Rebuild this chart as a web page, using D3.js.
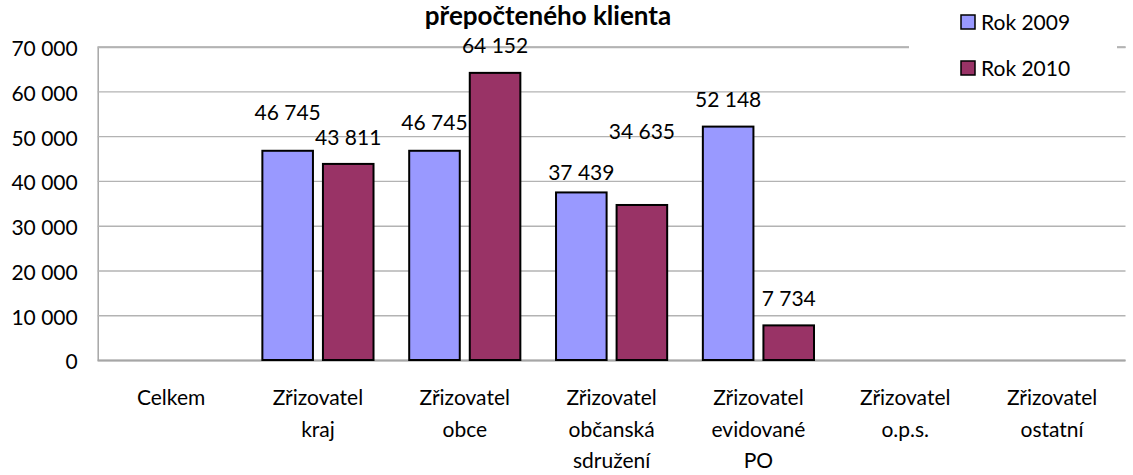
<!DOCTYPE html>
<html>
<head>
<meta charset="utf-8">
<script src="https://cdn.jsdelivr.net/npm/d3@7"></script>
<style>
  html, body { margin: 0; padding: 0; background: #ffffff; }
  svg { display: block; }
</style>
</head>
<body>
<main></main>
<script>
// Chart values
const categories = [
    "Celkem",
    "Zřizovatel\nkraj",
    "Zřizovatel\nobce",
    "Zřizovatel\nobčanská\nsdružení",
    "Zřizovatel\nevidované\nPO",
    "Zřizovatel\no.p.s.",
    "Zřizovatel\nostatní"
];
const seriesNames = ["Rok 2009", "Rok 2010"];
const values2009 = [null, 46745, 46745, 37439, 52148, null, null];
const values2010 = [null, 43811, 64152, 34635, 7734, null, null];
const yTicks = [0, 10000, 20000, 30000, 40000, 50000, 60000, 70000];
const titleText = "přepočteného klienta";

// labels were dragged by hand in the original, so they sit at different heights
const labelLift2009 = [0, 31, 21, 12, 20, 0, 0];
const labelLift2010 = [0, 19, 20, 66, 19, 0, 0];

function drawChart(){

    let width = 1133;
    let height = 475;
    const margin = { top: 46.7, bottom: 115, left: 97.7, right: 7.5 };
    const colors = ["#9999ff", "#993366"];
    const font = "Lato, 'Open Sans', sans-serif";

    const rows = categories.map((c, i) => ({
        idx: i,
        lines: c.split("\n"),
        vals: [values2009[i], values2010[i]],
        lifts: [labelLift2009[i], labelLift2010[i]]
    }));

    const x = d3.scaleBand()
        .domain(rows.map(d => d.idx))
        .range([margin.left, width - margin.right]);

    const xSub = d3.scaleBand()
        .domain([0, 1])
        .range([0, x.bandwidth()])
        .paddingInner(0.165)
        .paddingOuter(0.2945);

    const y = d3.scaleLinear()
        .domain([0, 70000])
        .range([height - margin.bottom, margin.top]);

    const cz = d3.formatLocale({ decimal: ",", thousands: " ", grouping: [3], currency: ["", ""] });
    const fmt = cz.format(",d");

    let svg = d3.select("main")
        .append("svg")
        .attr("width", width)
        .attr("height", height)
        .style("font-family", font);

    svg.append("rect")
        .attr("width", width)
        .attr("height", height)
        .attr("fill", "#ffffff");

    // gridlines + y labels
    const yAxis = svg.append("g")
        .attr("transform", "translate(" + margin.left + ",0)")
        .call(d3.axisLeft(y)
            .tickValues(yTicks)
            .tickSize(-(width - margin.left - margin.right))
            .tickPadding(20)
            .tickFormat(fmt));

    yAxis.select(".domain").attr("stroke", "#a6a6a6").attr("stroke-width", 1.5);
    yAxis.selectAll(".tick line")
        .attr("stroke", d => d === 0 ? "#a6a6a6" : "#b3b3b3")
        .attr("stroke-width", d => d === 0 || d === 70000 ? 2 : 1.3);
    yAxis.selectAll(".tick text")
        .attr("fill", "#000")
        .attr("font-size", 21)
        .attr("font-family", font)
        .attr("dy", "0.42em");

    // bars
    const groups = svg.append("g").selectAll("g")
        .data(rows)
        .join("g")
        .attr("transform", d => "translate(" + x(d.idx) + ",0)");

    groups.selectAll("rect")
        .data(d => d.vals.map((v, s) => ({ v: v, s: s })).filter(e => e.v !== null))
        .join("rect")
        .attr("x", e => xSub(e.s))
        .attr("y", e => y(e.v))
        .attr("width", xSub.bandwidth())
        .attr("height", e => y(0) - y(e.v))
        .attr("fill", e => colors[e.s])
        .attr("stroke", "#000")
        .attr("stroke-width", 2);

    // value labels
    groups.selectAll("text.val")
        .data(d => d.vals.map((v, s) => ({ v: v, s: s, lift: d.lifts[s] })).filter(e => e.v !== null))
        .join("text")
        .attr("class", "val")
        .attr("x", e => xSub(e.s) + xSub.bandwidth() / 2)
        .attr("y", e => y(e.v) - e.lift)
        .attr("text-anchor", "middle")
        .attr("font-size", 21)
        .attr("fill", "#000")
        .text(e => fmt(e.v));

    // category labels
    const catText = svg.append("g").selectAll("text")
        .data(rows)
        .join("text")
        .attr("x", d => x(d.idx) + x.bandwidth() / 2)
        .attr("y", 405)
        .attr("text-anchor", "middle")
        .attr("font-size", 21)
        .attr("fill", "#000");

    catText.selectAll("tspan")
        .data(d => d.lines)
        .join("tspan")
        .attr("x", function(){ return this.parentNode.getAttribute("x"); })
        .attr("dy", (t, i) => i === 0 ? 0 : 31.5)
        .text(t => t);

    // title (first line is cut off above the picture)
    svg.append("text")
        .attr("x", 548)
        .attr("y", 25)
        .attr("text-anchor", "middle")
        .attr("font-size", 26)
        .attr("font-weight", "bold")
        .attr("fill", "#000")
        .text(titleText);

    // legend
    const legend = svg.append("g").attr("transform", "translate(909,0)");
    legend.append("rect")
        .attr("width", 208)
        .attr("height", 84)
        .attr("fill", "#ffffff");

    const items = legend.selectAll("g")
        .data(seriesNames)
        .join("g")
        .attr("transform", (d, i) => "translate(52," + (15 + i * 46) + ")");

    items.append("rect")
        .attr("width", 14)
        .attr("height", 14)
        .attr("fill", (d, i) => colors[i])
        .attr("stroke", "#000")
        .attr("stroke-width", 1.5);

    items.append("text")
        .attr("x", 20)
        .attr("y", 15)
        .attr("font-size", 21)
        .attr("fill", "#000")
        .text(d => d);
}

drawChart();
</script>
</body>
</html>
